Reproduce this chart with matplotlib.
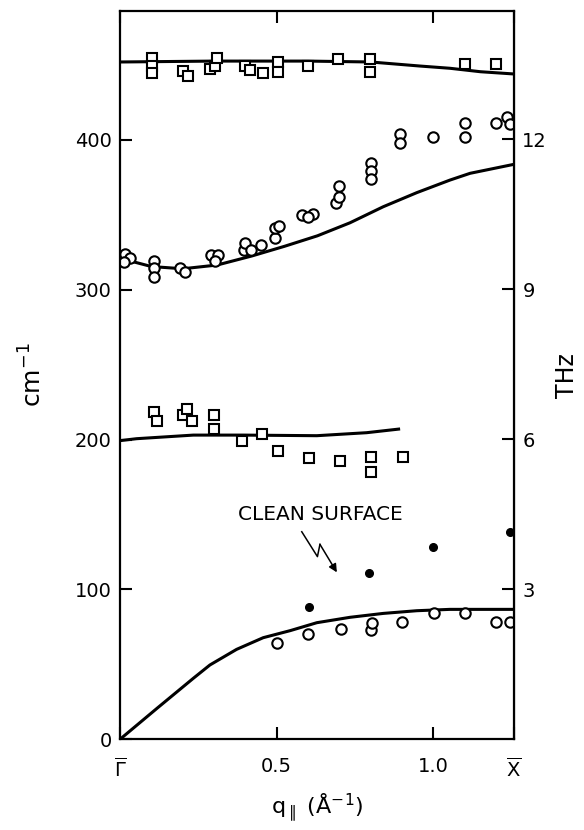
import matplotlib
matplotlib.use("Agg")
import matplotlib.pyplot as plt

# q in 1/Angstrom, frequencies in cm^-1
sq_hi_q = [0.101, 0.101, 0.101, 0.202, 0.218, 0.287, 0.303, 0.311, 0.399, 0.415,
           0.455, 0.505, 0.505, 0.601, 0.697, 0.798, 0.798, 1.10, 1.20]
sq_hi_w = [454.9, 449.5, 444.5, 446.0, 442.8, 447.3, 449.5, 454.9, 449.5, 446.6,
           444.4, 452.2, 445.5, 449.5, 454.0, 454.0, 445.1, 450.6, 450.6]

ci_hi_q = [0.015, 0.033, 0.012, 0.109, 0.109, 0.109, 0.19, 0.206, 0.291, 0.313,
           0.302, 0.396, 0.398, 0.419, 0.451, 0.494, 0.495, 0.508, 0.58, 0.617,
           0.60, 0.689, 0.70, 0.70, 0.80, 0.80, 0.80, 0.894, 0.894, 0.998,
           1.10, 1.10, 1.20, 1.236, 1.245]
ci_hi_w = [324.0, 321.0, 318.5, 319.2, 314.3, 308.7, 314.3, 312.0, 323.2, 323.2,
           319.2, 326.5, 331.0, 326.5, 329.9, 334.3, 341.4, 342.5, 349.9, 350.5,
           348.8, 358.0, 361.7, 369.4, 384.8, 379.2, 373.9, 404.0, 398.1, 402.0,
           411.5, 401.7, 411.0, 415.5, 410.6]

sq_lo_q = [0.108, 0.119, 0.20, 0.213, 0.229, 0.301, 0.301, 0.388, 0.452, 0.505,
           0.604, 0.702, 0.80, 0.80, 0.904]
sq_lo_w = [218.6, 212.6, 216.4, 220.2, 212.6, 216.4, 206.9, 199.3, 203.5, 192.4,
           188.0, 185.7, 188.6, 178.6, 188.6]

ci_lo_q = [0.502, 0.60, 0.704, 0.80, 0.803, 0.90, 1.002, 1.10, 1.20, 1.245]
ci_lo_w = [64.0, 70.0, 73.4, 72.9, 77.4, 78.5, 84.5, 84.0, 78.5, 78.5]

# clean surface (filled dots)
clean_q = [0.604, 0.793, 0.998, 1.243]
clean_w = [88.0, 111.2, 128.1, 138.5]

# calculated curves
c1_q = [0, 0.3, 0.6, 0.8, 0.957, 1.053, 1.15, 1.257]
c1_w = [452.0, 452.6, 452.6, 452.0, 449.3, 447.8, 445.5, 444.0]
c2_q = [0, 0.1, 0.2, 0.31, 0.42, 0.525, 0.63, 0.734, 0.84, 0.947, 1.053, 1.117, 1.257]
c2_w = [321.0, 315.5, 314.0, 316.5, 322.5, 329.0, 336.0, 344.7, 355.4, 364.8, 373.2, 377.7, 383.7]
c3_q = [0, 0.053, 0.234, 0.393, 0.628, 0.787, 0.889]
c3_w = [199.3, 200.6, 203.0, 203.0, 202.6, 204.6, 207.0]
c4_q = [0, 0.12, 0.234, 0.287, 0.372, 0.457, 0.543, 0.628, 0.734, 0.84, 0.947, 1.053, 1.257]
c4_w = [0, 21.0, 40.7, 49.6, 60.0, 67.8, 72.5, 77.8, 81.4, 84.0, 85.8, 86.7, 86.7]

xticks = [0, 0.5, 1.0, 1.257]
xlabels = [r"$\overline{\Gamma}$", "0.5", "1.0", r"$\overline{\mathrm{X}}$"]
yticks = [0, 100, 200, 300, 400]
thz_ticks = [3, 6, 9, 12]
CM_PER_THZ = 33.356

plt.rcParams["font.family"] = "DejaVu Sans"
plt.rcParams["mathtext.fontset"] = "dejavusans"

fig = plt.figure(figsize=(5.84, 8.30), dpi=100)
ax = fig.add_axes([0.2055, 0.1093, 0.6745, 0.8774])

lw = 2.2
for q, w in [(c1_q, c1_w), (c2_q, c2_w), (c3_q, c3_w), (c4_q, c4_w)]:
    ax.plot(q, w, "-", color="black", lw=lw)

mk = dict(ls="none", mfc="white", mec="black", mew=1.5)
ax.plot(sq_hi_q, sq_hi_w, "s", ms=7, **mk)
ax.plot(sq_lo_q, sq_lo_w, "s", ms=7, **mk)
ax.plot(ci_hi_q, ci_hi_w, "o", ms=7.5, **mk)
ax.plot(ci_lo_q, ci_lo_w, "o", ms=7.5, **mk)
ax.plot(clean_q, clean_w, "o", ms=5.5, color="black", ls="none")

# annotation with zig-zag arrow
ax.text(0.638, 149.7, "CLEAN SURFACE", fontsize=14.5, ha="center", va="center")
ax.plot([0.580, 0.630, 0.638], [138.5, 121.9, 130.1], color="black", lw=1.1)
ax.annotate("", xy=(0.692, 111.4), xytext=(0.638, 130.1),
            arrowprops=dict(arrowstyle="-|>", color="black", lw=1.1,
                            mutation_scale=12, shrinkA=0, shrinkB=0))

ax.set_xlim(0, 1.257)
ax.set_ylim(0, 486)
ax.set_xticks(xticks)
ax.set_xticklabels(xlabels)
ax.set_yticks(yticks)
ax.tick_params(direction="in", length=8.5, width=1.5, labelsize=14)
ax.tick_params(axis="x", top=True, pad=13)
ax.tick_params(axis="y", pad=6)
for s in ax.spines.values():
    s.set_linewidth(1.6)

ax.set_ylabel("cm$^{-1}$", fontsize=18, labelpad=20)
ax.set_xlabel(r"q$_{\parallel}$ (Å$^{-1}$)", fontsize=16, labelpad=8)

sec = ax.secondary_yaxis("right", functions=(lambda w: w / CM_PER_THZ,
                                              lambda f: f * CM_PER_THZ))
sec.set_yticks(thz_ticks)
sec.tick_params(direction="in", length=8.5, width=1.5, labelsize=14, pad=6)
sec.set_ylabel("THz", fontsize=17, labelpad=6)

fig.savefig("out.png", dpi=100)
